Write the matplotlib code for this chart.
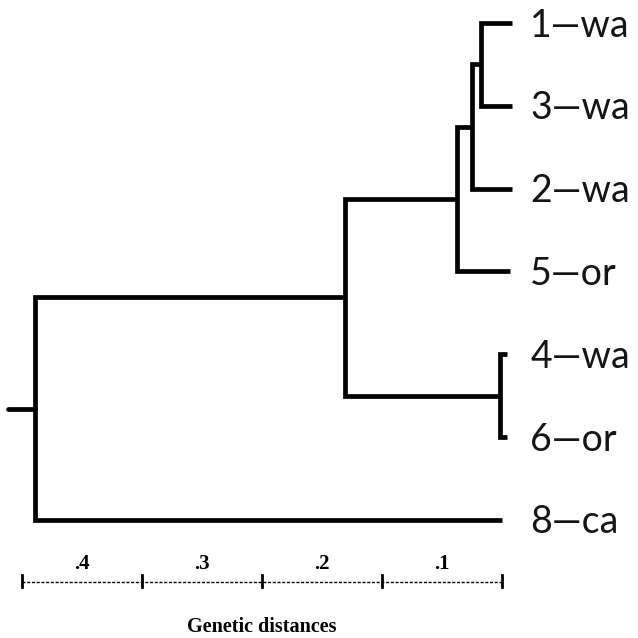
import matplotlib
matplotlib.use("Agg")
import matplotlib.pyplot as plt

# ---- data ----
leaves = ['1—wa', '3—wa', '2—wa', '5—or', '4—wa', '6—or', '8—ca']
leaf_tips = [-0.0085, -0.0085, -0.0085, -0.007, -0.004, -0.004, 0.0]
# internal nodes: (child_a, child_b, height); children index leaves (0..6) or nodes ('n0'..)
node_a = [0, 'n0', 'n1', 4, 'n2', 'n4']
node_b = [1, 2, 3, 5, 'n3', 6]
node_h = [0.0175, 0.025, 0.0375, 0.0017, 0.131, 0.389]
root_stub = 0.412
scale_ticks = [0.0, 0.1, 0.2, 0.3, 0.4]
scale_labels = ['.1', '.2', '.3', '.4']
scale_label_pos = [0.05, 0.15, 0.25, 0.35]
axis_title = 'Genetic distances'

# ---- figure ----
fig = plt.figure(figsize=(6.38, 6.38), dpi=100)
ax = fig.add_axes([0, 0, 1, 1])
ax.set_xlim(0.4183, -0.1133)
ax.set_ylim(7.425, -0.278)
ax.axis('off')

pos_y = {i: float(i) for i in range(len(leaves))}
pos_x = {i: leaf_tips[i] for i in range(len(leaves))}
LW = 3.4
for k, (a, b, h) in enumerate(zip(node_a, node_b, node_h)):
    ya, yb = pos_y[a], pos_y[b]
    xa, xb = pos_x[a], pos_x[b]
    ax.plot([xa, h, h, xb], [ya, ya, yb, yb], color='black', lw=LW,
            solid_joinstyle='miter', solid_capstyle='butt')
    name = 'n%d' % k
    pos_y[name] = (ya + yb) / 2
    pos_x[name] = h

root = 'n%d' % (len(node_h) - 1)
ax.plot([root_stub, pos_x[root]], [pos_y[root], pos_y[root]], color='black',
        lw=LW, solid_capstyle='round')

for i, name in enumerate(leaves):
    ax.text(-0.0235, i + 0.03, name, ha='left', va='center', fontsize=27,
            family='Lato', fontweight='normal', color='#151515')

# ---- scale bar ----
sy = 6.75
ax.plot([max(scale_ticks), min(scale_ticks)], [sy, sy], color='black', lw=1.0,
        dashes=(2.2, 1.2))
for t in scale_ticks:
    ax.plot([t, t], [sy - 0.085, sy + 0.06], color='black', lw=2.0)
for lab, p in zip(scale_labels, scale_label_pos):
    ax.text(p, sy - 0.22, lab, ha='center', va='center', fontsize=15,
            family='Liberation Serif', fontweight='bold')
ax.text(0.2, 7.29, axis_title, ha='center', va='center', fontsize=14.5,
        family='Liberation Serif', fontweight='bold')

fig.savefig('out.png', dpi=100, facecolor='white')
